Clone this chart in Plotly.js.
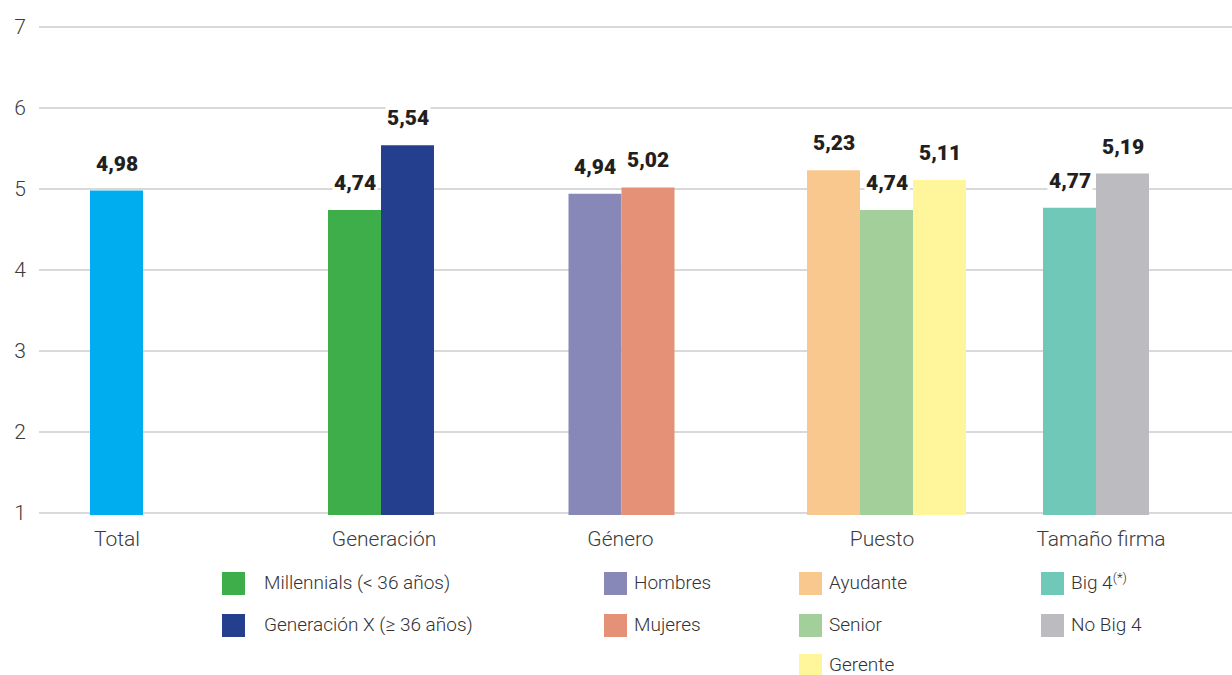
<!DOCTYPE html>
<html>
<head>
<meta charset="utf-8">
<script src="https://cdn.plot.ly/plotly-3.0.1.min.js"></script>
<style>
  html, body { margin: 0; padding: 0; background: #ffffff; }
  #chart { width: 1232px; height: 675px; }
</style>
</head>
<body>
<div id="chart"></div>
<script>
// ---------- DATA ----------
const groups = ["Total", "Generación", "Género", "Puesto", "Tamaño firma"];
const seriesNames = [
  "Total",
  "Millennials (< 36 años)",
  "Generación X (≥ 36 años)",
  "Hombres",
  "Mujeres",
  "Ayudante",
  "Senior",
  "Gerente",
  "Big 4<sup>(*)</sup>",
  "No Big 4"
];
const seriesGroup = ["Total", "Generación", "Generación", "Género", "Género", "Puesto", "Puesto", "Puesto", "Tamaño firma", "Tamaño firma"];
const values = [4.98, 4.74, 5.54, 4.94, 5.02, 5.23, 4.74, 5.11, 4.77, 5.19];
const yTicks = [1, 2, 3, 4, 5, 6, 7];

// ---------- STYLE / LAYOUT ----------
const colors = ["#00AEEF", "#3DAE49", "#243F8E", "#8888B8", "#E59178", "#F9C88E", "#A3CF9A", "#FFF59A", "#6FC8B8", "#BCBCC0"];
const W = 1232, H = 675;
const pad = 2;                       // extra px so the edge gridlines (1 and 7) are drawn
const unitPx = 81;                   // px per y unit
const M = { l: 39, r: 0, t: 27 - pad, b: 162 - pad };
const plotW = W - M.l - M.r, plotH = H - M.t - M.b;
const groupCenterPx = [116.5, 381, 621.5, 886.5, 1096];   // horizontal placement of each group
const tickLabelPx = [117, 384, 620.5, 882, 1101];         // horizontal placement of the group labels
const barW = 53;
const legendSquareX = [222, 604, 799, 1041];
const legendTextX = [263, 633, 828, 1070];
const legendRowY = [583.5, 625.5, 665.5];
const legendTextDy = -1.5;
const legendSq = 23;

const px2x = px => (px - M.l) / plotW;
const py2y = py => (M.t + plotH - py) / plotH;
const font = "Roboto, 'DejaVu Sans', sans-serif";

const traces = [];
const annotations = [];
const shapes = [];

seriesNames.forEach((name, i) => {
  const g = groups.indexOf(seriesGroup[i]);
  const members = seriesNames.map((_, j) => j).filter(j => seriesGroup[j] === seriesGroup[i]);
  const k = members.indexOf(i);
  const n = members.length;
  const off = (k - n / 2) * barW;
  traces.push({
    type: "bar",
    name: name,
    x: [groupCenterPx[g]],
    y: [values[i]],
    width: barW,
    offset: off,
    marker: { color: colors[i], line: { width: 0 } },
    showlegend: false,
    hoverinfo: "y+name"
  });
  annotations.push({
    xref: "x", yref: "y",
    x: groupCenterPx[g] + off + barW / 2,
    y: values[i],
    text: values[i].toFixed(2).replace(".", ","),
    showarrow: false,
    xanchor: "center", yanchor: "bottom",
    yshift: 13,
    bgcolor: "#ffffff",
    borderpad: 1,
    font: { family: font, size: 21, color: "#231f20", weight: 900 }
  });
  if (g > 0) {
    const col = g - 1;
    const cy = legendRowY[k];
    shapes.push({
      type: "rect", xref: "paper", yref: "paper",
      x0: px2x(legendSquareX[col]), x1: px2x(legendSquareX[col] + legendSq),
      y0: py2y(cy - legendSq / 2), y1: py2y(cy + legendSq / 2),
      fillcolor: colors[i], line: { width: 0 }
    });
    annotations.push({
      xref: "paper", yref: "paper",
      x: px2x(legendTextX[col]), y: py2y(cy + legendTextDy),
      xanchor: "left", yanchor: "middle",
      height: 24, borderpad: 0, valign: "middle",
      text: name, showarrow: false,
      font: { family: font, size: 19, color: "#333333", weight: 300 }
    });
  }
});

const yPadUnits = pad / unitPx;

const layout = {
  width: W, height: H,
  margin: M,
  paper_bgcolor: "#ffffff",
  plot_bgcolor: "#ffffff",
  barmode: "overlay",
  showlegend: false,
  xaxis: {
    type: "linear",
    range: [M.l, W - M.r],
    tickvals: tickLabelPx,
    ticktext: groups,
    showgrid: false, zeroline: false, showline: false,
    ticks: "",
    ticklabelstandoff: 9,
    tickfont: { family: font, size: 21, color: "#3c3c3c", weight: 300 },
    fixedrange: true
  },
  yaxis: {
    range: [yTicks[0] - yPadUnits, yTicks[yTicks.length - 1] + yPadUnits],
    tickvals: yTicks,
    showgrid: true, gridcolor: "#d9d9d9", gridwidth: 1.5,
    zeroline: false, showline: false,
    ticks: "",
    ticklabelstandoff: 12,
    tickfont: { family: font, size: 21, color: "#3c3c3c", weight: 300 },
    fixedrange: true
  },
  annotations: annotations,
  shapes: shapes
};

Plotly.newPlot("chart", traces, layout, { displayModeBar: false, staticPlot: true });
</script>
</body>
</html>
